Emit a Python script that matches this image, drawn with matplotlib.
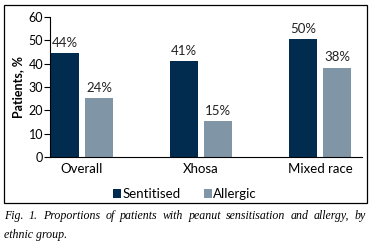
import matplotlib

matplotlib.use("Agg")
import matplotlib.pyplot as plt
import numpy as np
from matplotlib.patches import Rectangle

groups = ["Overall", "Xhosa", "Mixed race"]
sentitised = [44.5, 41.0, 50.5]
allergic = [25.3, 15.5, 38.3]
sentitised_labels = ["44%", "41%", "50%"]
allergic_labels = ["24%", "15%", "38%"]
yticks = [0, 10, 20, 30, 40, 50, 60]
caption_line1 = "Fig. 1. Proportions of patients with peanut sensitisation and allergy, by"
caption_line2 = "ethnic group."

dark = "#022c4f"
grey = "#8095a5"
font = "Lato"

fig = plt.figure(figsize=(3.70, 2.44), dpi=100)
ax = fig.add_axes([50 / 370, 87 / 244, 312 / 370, 140 / 244])

x = np.arange(len(groups))
w = 0.235
off = 0.143
b1 = ax.bar(x - off, sentitised, w, color=dark, label="Sentitised")
b2 = ax.bar(x + off, allergic, w, color=grey, label="Allergic")
for bars, labels in [(b1, sentitised_labels), (b2, allergic_labels)]:
    for rect, lab in zip(bars, labels):
        ax.annotate(lab, (rect.get_x() + rect.get_width() / 2, rect.get_height()),
                    xytext=(0, 3), textcoords="offset points", ha="center", va="bottom",
                    fontsize=9.5, family=font, color="#222222")

ax.set_xlim(-0.269, 2.353)
ax.set_ylim(0, 60)
ax.set_yticks(yticks)
ax.set_xticks(x)
ax.set_xticklabels(groups, family=font, fontsize=9.5)
ax.tick_params(axis="x", length=0, pad=4)
ax.tick_params(axis="y", length=4, width=0.8, pad=1, labelsize=9)
for t in ax.get_yticklabels():
    t.set_family(font)
for s in ["top", "right"]:
    ax.spines[s].set_visible(False)
for s in ["left", "bottom"]:
    ax.spines[s].set_linewidth(0.8)
ax.set_ylabel("Patients, %", family=font, fontsize=9, fontweight="bold", labelpad=3)

fig.legend(handles=[b1, b2], loc="center", bbox_to_anchor=(185 / 370, 1 - 194 / 244),
           ncol=2, frameon=False, handlelength=0.6, handleheight=0.6, handletextpad=0.1,
           columnspacing=1.8, prop={"family": font, "size": 9.5})

fig.patches.append(Rectangle((4 / 370, 41 / 244), 363 / 370, 198 / 244,
                             transform=fig.transFigure, fill=False, edgecolor="black", linewidth=0.9))

# justified caption: place words one by one so the first line fills the box width
cap_kw = dict(family="Liberation Serif", style="italic", fontsize=8.6, va="center", ha="left")
renderer = fig.canvas.get_renderer()
words = caption_line1.split()
texts = [fig.text(0, 1 - 216 / 244, wd, **cap_kw) for wd in words]
widths = [t.get_window_extent(renderer).width for t in texts]
left, right = 4.0, 366.0
gap = (right - left - sum(widths)) / (len(words) - 1)
pos = left
for t, wd in zip(texts, widths):
    t.set_x(pos / 370)
    pos += wd + gap
fig.text(4 / 370, 1 - 235 / 244, caption_line2, **cap_kw)

fig.savefig("out.png", dpi=100)
